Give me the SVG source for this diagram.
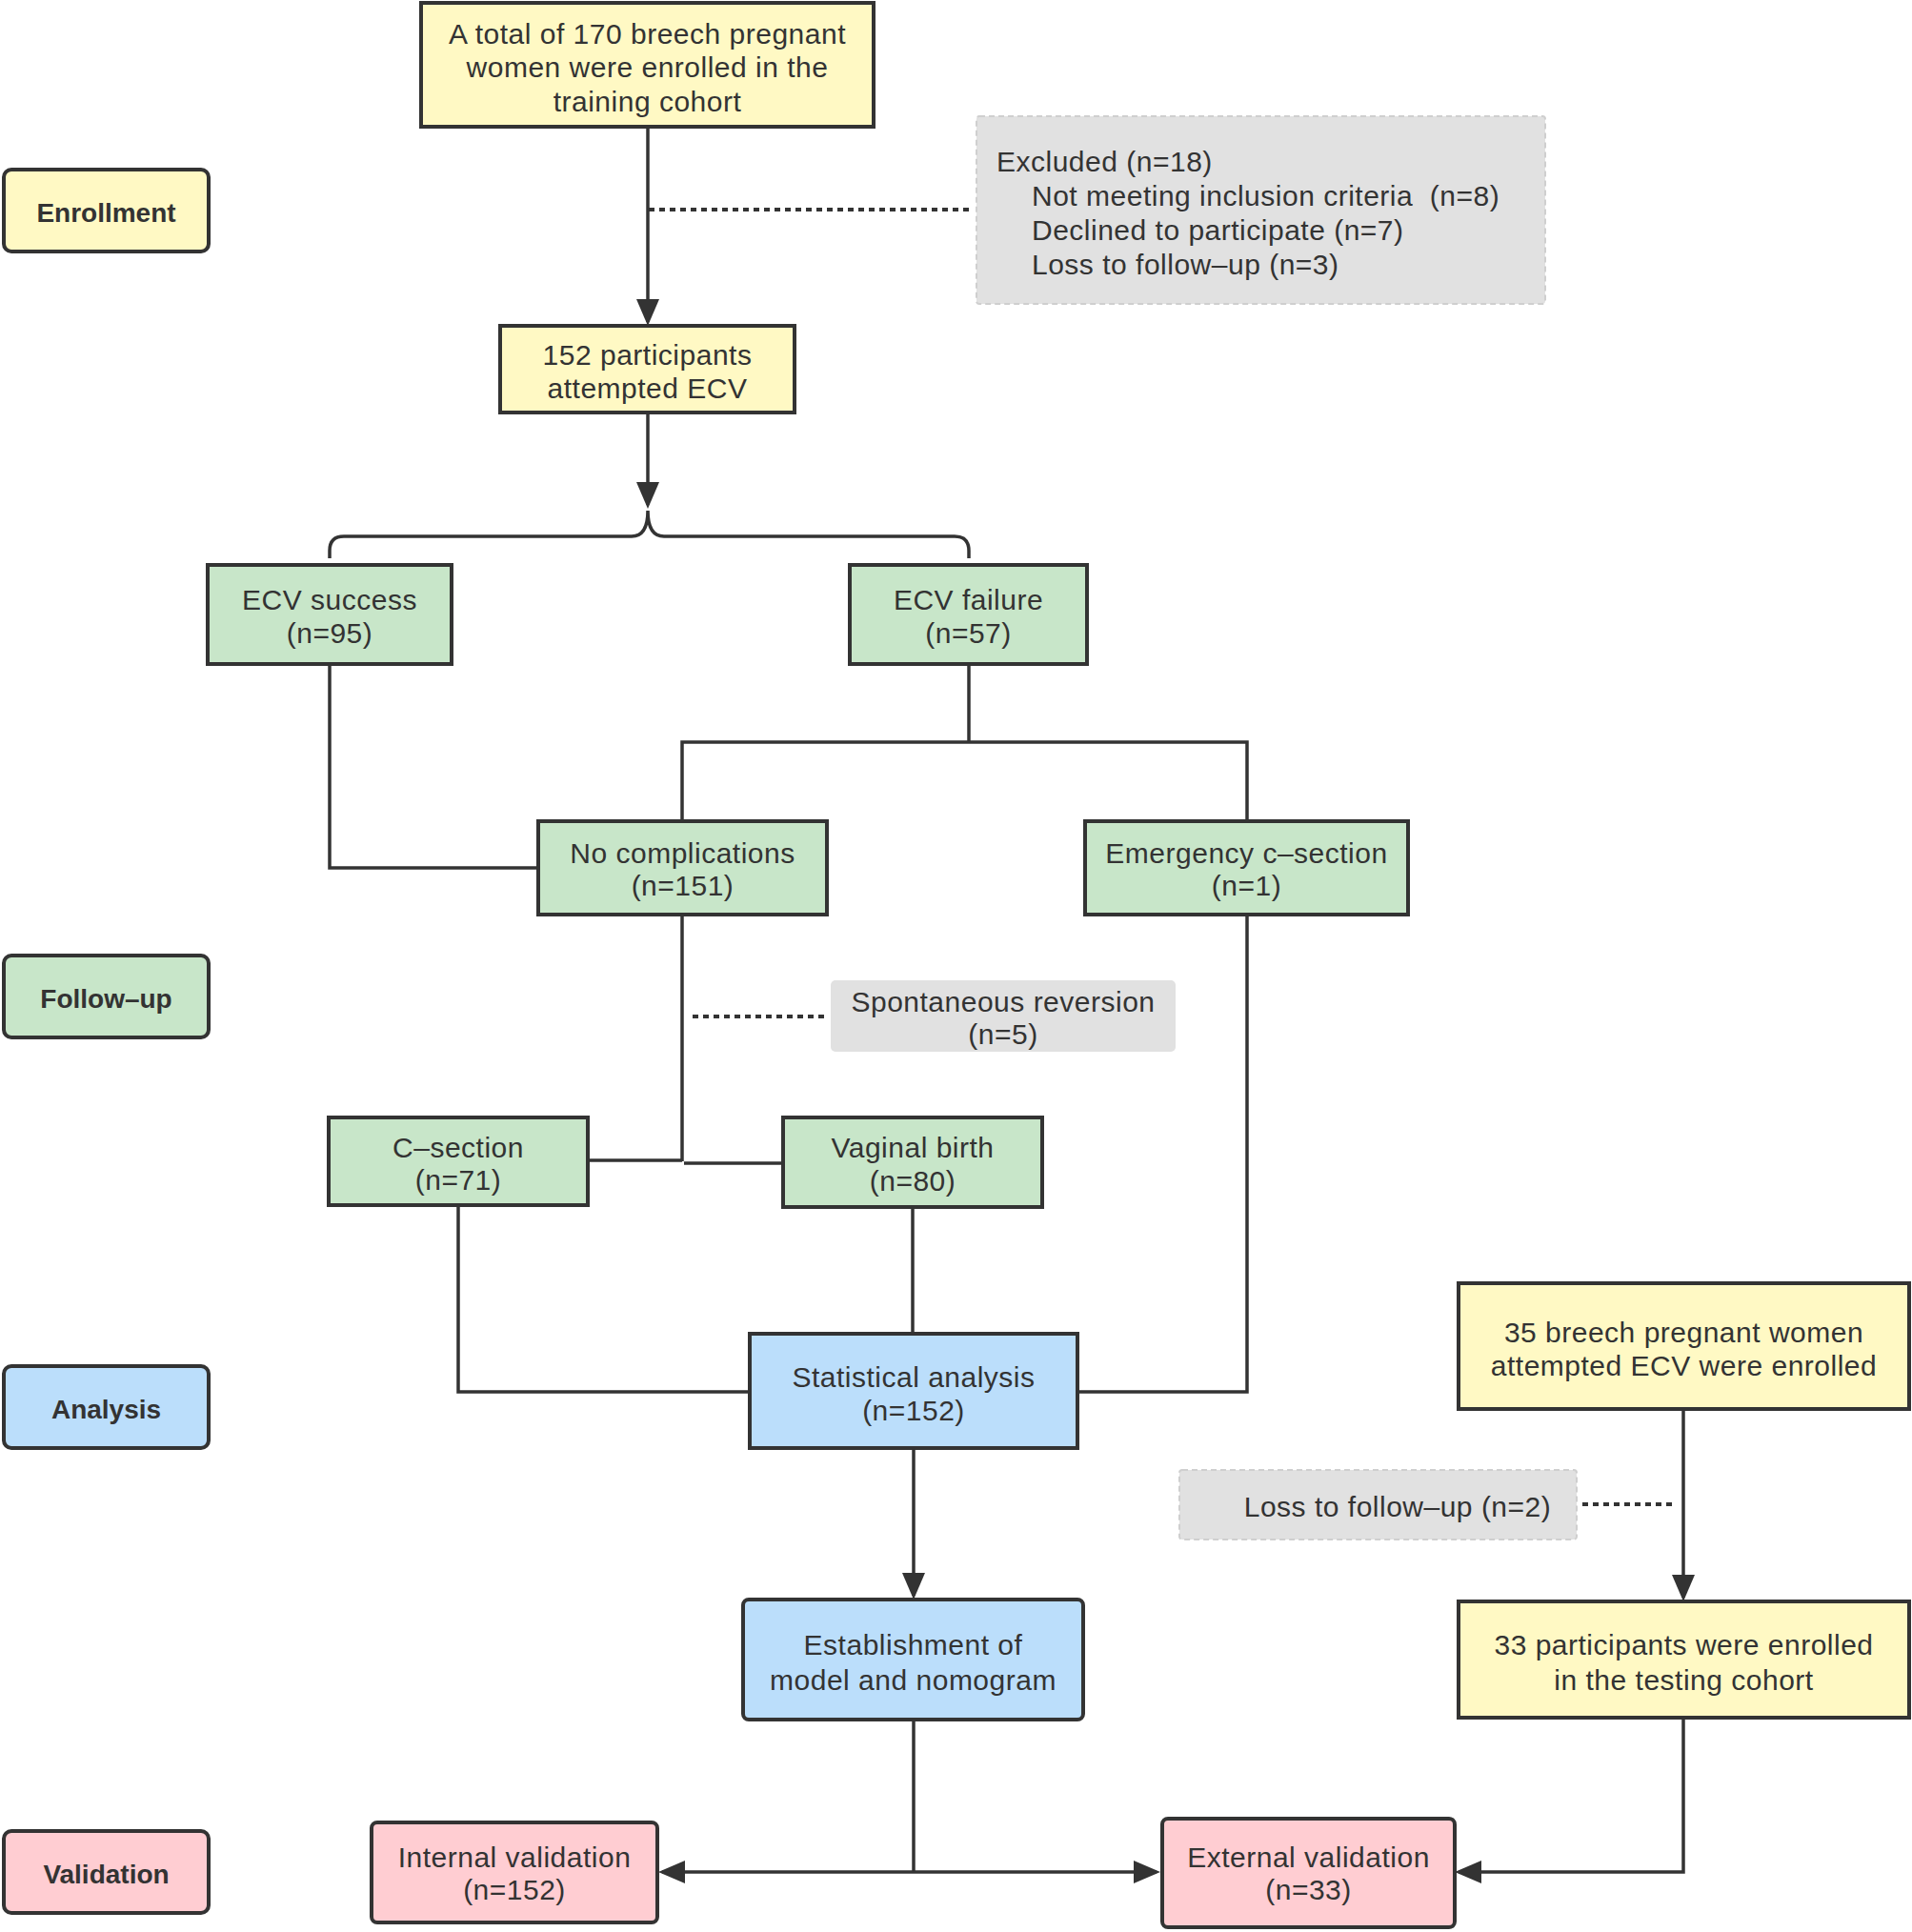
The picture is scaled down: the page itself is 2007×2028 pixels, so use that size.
<svg xmlns="http://www.w3.org/2000/svg" width="2007" height="2028" viewBox="0 0 2007 2028">
<style>
text{font-family:"Liberation Sans",Arial,sans-serif;font-size:30px;letter-spacing:0.5px;fill:#333333;}
.c{text-anchor:middle;}
.b{font-weight:bold;font-size:28px;letter-spacing:0;text-anchor:middle;}
.box{stroke:#333333;stroke-width:4;}
.y{fill:#fff9c4;}
.g{fill:#c8e6c9;}
.bl{fill:#bbdefb;}
.p{fill:#ffcdd2;}
.gr{fill:#e1e1e1;}
.dash{stroke:#cfcfcf;stroke-width:2;stroke-dasharray:6 4;}
.ln{fill:none;stroke:#333333;stroke-width:3.5;}
.dot{fill:none;stroke:#333333;stroke-width:4;stroke-dasharray:6 5;}
</style>
<defs>
<marker id="arr" viewBox="0 0 28 24" refX="24" refY="12" markerWidth="28" markerHeight="24" markerUnits="userSpaceOnUse" orient="auto-start-reverse">
<path d="M0,0 L28,12 L0,24 Z" fill="#333333"/>
</marker>
</defs>
<rect width="2007" height="2028" fill="#ffffff"/>

<g id="connectors">
<path class="ln" d="M680,134 V338" marker-end="url(#arr)"/>
<path class="dot" d="M681,220 H1022"/>
<path class="ln" d="M680,433 V530" marker-end="url(#arr)"/>
<path class="ln" d="M346,586 V578 Q346,563 361,563 H663 Q680,563 680,536 Q680,563 697,563 H1002 Q1017,563 1017,578 V586"/>
<path class="ln" d="M346,697 V911 H565"/>
<path class="ln" d="M1017,697 V779"/>
<path class="ln" d="M716,862 V779 H1309 V862"/>
<path class="ln" d="M716,960 V1219"/>
<path class="ln" d="M617,1218 H716"/>
<path class="ln" d="M718,1221 H822"/>
<path class="dot" d="M727,1067 H867"/>
<path class="ln" d="M481,1265 V1461 H787"/>
<path class="ln" d="M958,1267 V1400"/>
<path class="ln" d="M1309,960 V1461 H1131"/>
<path class="ln" d="M959,1520 V1675" marker-end="url(#arr)"/>
<path class="ln" d="M1767,1479 V1677" marker-end="url(#arr)"/>
<path class="dot" d="M1661,1579 H1760"/>
<path class="ln" d="M959,1805 V1965"/>
<path class="ln" d="M695,1965 H1214" marker-start="url(#arr)" marker-end="url(#arr)"/>
<path class="ln" d="M1767,1803 V1965 H1531" marker-end="url(#arr)"/>
</g>

<g id="label-enrollment">
<rect class="box y" x="4" y="178" width="215" height="86" rx="8"/>
<text class="b" x="111.5" y="233">Enrollment</text>
</g>
<g id="label-followup">
<rect class="box g" x="4" y="1003" width="215" height="86" rx="8"/>
<text class="b" x="111.5" y="1058">Follow–up</text>
</g>
<g id="label-analysis">
<rect class="box bl" x="4" y="1434" width="215" height="86" rx="8"/>
<text class="b" x="111.5" y="1489">Analysis</text>
</g>
<g id="label-validation">
<rect class="box p" x="4" y="1922" width="215" height="86" rx="8"/>
<text class="b" x="111.5" y="1977">Validation</text>
</g>

<g id="node-enrolled">
<rect class="box y" x="442" y="3" width="475" height="130"/>
<text class="c" x="679.5" y="46">A total of 170 breech pregnant</text>
<text class="c" x="679.5" y="81">women were enrolled in the</text>
<text class="c" x="679.5" y="117">training cohort</text>
</g>
<g id="node-excluded">
<rect class="gr dash" x="1025" y="122" width="597" height="197" rx="3"/>
<text x="1046" y="180">Excluded (n=18)</text>
<text x="1083" y="216" xml:space="preserve">Not meeting inclusion criteria  (n=8)</text>
<text x="1083" y="252">Declined to participate (n=7)</text>
<text x="1083" y="288">Loss to follow–up (n=3)</text>
</g>
<g id="node-attempted">
<rect class="box y" x="525" y="342" width="309" height="91"/>
<text class="c" x="679.5" y="383">152 participants</text>
<text class="c" x="679.5" y="418">attempted ECV</text>
</g>
<g id="node-success">
<rect class="box g" x="218" y="593" width="256" height="104"/>
<text class="c" x="346" y="640">ECV success</text>
<text class="c" x="346" y="675">(n=95)</text>
</g>
<g id="node-failure">
<rect class="box g" x="892" y="593" width="249" height="104"/>
<text class="c" x="1016.5" y="640">ECV failure</text>
<text class="c" x="1016.5" y="675">(n=57)</text>
</g>
<g id="node-nocomp">
<rect class="box g" x="565" y="862" width="303" height="98"/>
<text class="c" x="716.5" y="906">No complications</text>
<text class="c" x="716.5" y="940">(n=151)</text>
</g>
<g id="node-emergency">
<rect class="box g" x="1139" y="862" width="339" height="98"/>
<text class="c" x="1308.5" y="906">Emergency c–section</text>
<text class="c" x="1308.5" y="940">(n=1)</text>
</g>
<g id="node-spontaneous">
<rect class="gr" x="872" y="1029" width="362" height="75" rx="5"/>
<text class="c" x="1053" y="1062">Spontaneous reversion</text>
<text class="c" x="1053" y="1096">(n=5)</text>
</g>
<g id="node-csection">
<rect class="box g" x="345" y="1173" width="272" height="92"/>
<text class="c" x="481" y="1215">C–section</text>
<text class="c" x="481" y="1249">(n=71)</text>
</g>
<g id="node-vaginal">
<rect class="box g" x="822" y="1173" width="272" height="94"/>
<text class="c" x="958" y="1215">Vaginal birth</text>
<text class="c" x="958" y="1250">(n=80)</text>
</g>
<g id="node-statistical">
<rect class="box bl" x="787" y="1400" width="344" height="120"/>
<text class="c" x="959" y="1456">Statistical analysis</text>
<text class="c" x="959" y="1491">(n=152)</text>
</g>
<g id="node-establishment">
<rect class="box bl" x="780" y="1679" width="357" height="126" rx="6"/>
<text class="c" x="958.5" y="1737">Establishment of</text>
<text class="c" x="958.5" y="1774">model and nomogram</text>
</g>
<g id="node-external-enrolled">
<rect class="box y" x="1531" y="1347" width="473" height="132"/>
<text class="c" x="1767.5" y="1409">35 breech pregnant women</text>
<text class="c" x="1767.5" y="1444">attempted ECV were enrolled</text>
</g>
<g id="node-loss">
<rect class="gr dash" x="1238" y="1543" width="417" height="73" rx="3"/>
<text class="c" x="1467" y="1592">Loss to follow–up (n=2)</text>
</g>
<g id="node-testing">
<rect class="box y" x="1531" y="1681" width="473" height="122"/>
<text class="c" x="1767.5" y="1737">33 participants were enrolled</text>
<text class="c" x="1767.5" y="1774">in the testing cohort</text>
</g>
<g id="node-internal">
<rect class="box p" x="390" y="1913" width="300" height="105" rx="6"/>
<text class="c" x="540" y="1960">Internal validation</text>
<text class="c" x="540" y="1994">(n=152)</text>
</g>
<g id="node-external">
<rect class="box p" x="1220" y="1909" width="307" height="114" rx="6"/>
<text class="c" x="1373.5" y="1960">External validation</text>
<text class="c" x="1373.5" y="1994">(n=33)</text>
</g>
</svg>
